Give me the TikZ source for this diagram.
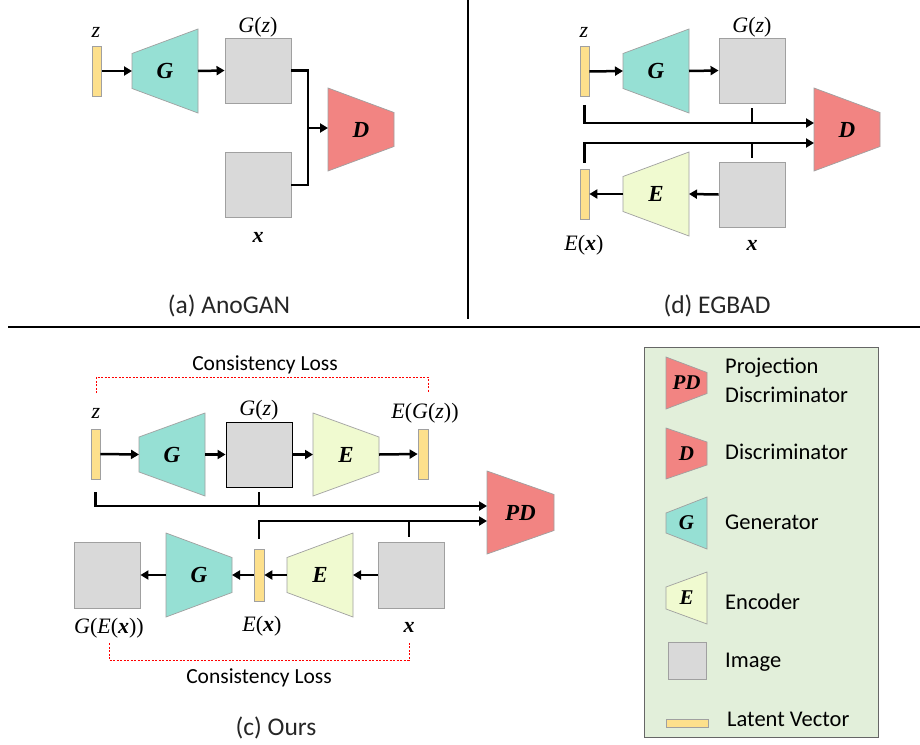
\documentclass[tikz,border=0pt]{standalone}
\usepackage{fontspec}
\setmainfont{Liberation Serif}
\newfontfamily\calfont{Carlito}
\usetikzlibrary{arrows.meta,calc}
\definecolor{gcol}{HTML}{96E0D4}
\definecolor{dcol}{HTML}{F28482}
\definecolor{ecol}{HTML}{F0FAD0}
\definecolor{icol}{HTML}{D9D9D9}
\definecolor{vcol}{HTML}{FDE08C}
\definecolor{lcol}{HTML}{E2EFDA}
\definecolor{bcol}{HTML}{A0A0A0}
\newcommand{\trapz}[7]{%
  \draw[#7] (#2,#4-#5) -- (#3,#4-#6) -- (#3,#4+#6) -- (#2,#4+#5) -- cycle;
  \coordinate (#1-l) at (#2,#4);
  \coordinate (#1-r) at (#3,#4);
  \coordinate (#1) at ({(#2+#3)/2},#4);}
\newcommand{\bi}[1]{\textbf{\textit{#1}}}
\tikzset{
  gen/.style={fill=gcol,draw=bcol,line width=0.7pt},
  disc/.style={fill=dcol,draw=bcol,line width=0.7pt},
  enc/.style={fill=ecol,draw=bcol,line width=0.7pt},
  imgbox/.style={rectangle,fill=icol,draw=bcol,line width=0.9pt,minimum width=66pt,minimum height=65pt,inner sep=0pt},
  vec/.style={rectangle,fill=vcol,draw=bcol,line width=0.7pt,minimum width=9pt,minimum height=50pt,inner sep=0pt},
  conn/.style={line width=2.5pt,black},
  arr/.style={conn,-{Triangle[length=8pt,width=9pt]}},
  lab/.style={font=\fontsize{22}{24}\selectfont,inner sep=0pt},
  netlab/.style={font=\fontsize{23}{25}\selectfont\bfseries\itshape,inner sep=0pt},
  leglab/.style={font=\fontsize{21}{23}\selectfont\bfseries\itshape,inner sep=0pt},
  sans/.style={font=\calfont\fontsize{21.5}{23}\selectfont,inner sep=0pt},
  captxt/.style={font=\calfont\fontsize{25.5}{27}\selectfont,inner sep=0pt,text=black!85},
  legt/.style={font=\calfont\fontsize{22.5}{24}\selectfont,inner sep=0pt,anchor=west},
  cl/.style={red,dashed,dash pattern=on 2pt off 1.5pt,line width=0.9pt}
}
\begin{document}
\begin{tikzpicture}[x=1pt,y=-1pt]
\useasboundingbox (0,0) rectangle (920,744);
\fill[white] (0,0) rectangle (920,744);
% separators
\draw[line width=1.3pt] (468,0) -- (468,319);
\draw[line width=1.6pt] (8,327) -- (920,327);

% ===== (a) AnoGAN
\node[vec] (za) at (97,71) {};
\node[lab] (zal) at (96,32) {\textit{z}};
\trapz{Ga}{132}{198}{71}{17.5}{42}{gen}
\node[netlab] at (Ga) {G};
\node[imgbox] (Gza) at (258,70.5) {};
\node[lab] (Gzal) at (258,27) {\textit{G}(\textit{z})};
\node[imgbox] (xa) at (258,185) {};
\node[lab] (xal) at (258,237) {\bi{x}};
\trapz{Da}{328}{394}{129.5}{41.5}{17}{disc}
\node[netlab] at (Da) {D};
\coordinate (ja) at (308,128);
\draw[arr] (za.east) -- (Ga-l);
\draw[arr] (Ga-r) -- (Gza.west);
\draw[conn] (Gza.east) -| (ja) |- (xa.east);
\draw[arr] (ja) -- (ja -| Da-l);
\node[captxt] (capa) at (229,306) {(a) AnoGAN};

% ===== (d) EGBAD
\node[vec] (zd) at (584.5,71.5) {};
\node[lab] (zdl) at (584,32) {\textit{z}};
\trapz{Gd}{623}{689}{71}{17.5}{42}{gen}
\node[netlab] at (Gd) {G};
\node[imgbox] (Gzd) at (752,70.5) {};
\node[lab] (Gzdl) at (752,27) {\textit{G}(\textit{z})};
\trapz{Dd}{814}{880}{129.5}{41.5}{17}{disc}
\node[netlab] at (Dd) {D};
\node[vec] (exd) at (584.5,194) {};
\node[lab] (exdl) at (584,245) {\textit{E}(\bi{x})};
\trapz{Ed}{623}{689}{194}{17.5}{42}{enc}
\node[netlab] at (Ed) {E};
\node[imgbox] (xd) at (752,194.5) {};
\node[lab] (xdl) at (752,245) {\bi{x}};
\coordinate (d1) at (814,123);
\coordinate (d2) at (814,143);
\draw[arr] (zd.east) -- (Gd-l);
\draw[arr] (Gd-r) -- (Gzd.west);
\draw[arr] ([yshift=-8pt]zd.south) |- (d1);
\draw[conn] ([yshift=-5pt]Gzd.south) -- (Gzd.south |- d1);
\draw[arr] ([yshift=6pt]exd.north) |- (d2);
\draw[conn] ([yshift=4pt]xd.north) -- (xd.north |- d2);
\draw[arr] (xd.west) -- (Ed-r);
\draw[arr] (Ed-l) -- (exd.east);
\node[captxt] (capd) at (717,306) {(d) EGBAD};

% ===== (c) Ours
\node[vec] (zc) at (95.5,454) {};
\node[lab] (zcl) at (96,413) {\textit{z}};
\trapz{Gc}{139}{205}{454.5}{17.5}{41.5}{gen}
\node[netlab] at (Gc) {G};
\node[imgbox,draw=black] (Gzc) at (259,454.5) {};
\node[lab] (Gzcl) at (259,410) {\textit{G}(\textit{z})};
\trapz{Ec}{313}{379}{454.5}{41.5}{17.5}{enc}
\node[netlab] at (Ec) {E};
\node[vec,minimum width=10pt] (egz) at (423,454) {};
\node[lab] (egzl) at (425,413) {\textit{E}(\textit{G}(\textit{z}))};
\trapz{PD}{487}{554}{512.5}{41.5}{18}{disc}
\node[netlab] at (PD) {PD};
\node[imgbox,minimum height=66pt] (gex) at (107,575) {};
\node[lab] (gexl) at (109,628) {\textit{G}(\textit{E}(\bi{x}))};
\trapz{Gb}{166}{232}{575}{42}{17.5}{gen}
\node[netlab] at (Gb) {G};
\node[vec,minimum width=10pt,minimum height=52pt] (exc) at (259,575) {};
\node[lab] (excl) at (262,626) {\textit{E}(\bi{x})};
\trapz{Eb}{287}{353}{575}{17.5}{42}{enc}
\node[netlab] at (Eb) {E};
\node[imgbox,minimum height=66pt] (xc) at (411,575) {};
\node[lab] (xcl) at (409,627) {\bi{x}};
\coordinate (p1) at (487,506);
\coordinate (p2) at (487,521);
\draw[arr] (zc.east) -- (Gc-l);
\draw[arr] (Gc-r) -- (Gzc.west);
\draw[arr] (Gzc.east) -- (Ec-l);
\draw[arr] (Ec-r) -- (egz.west);
\draw[arr] ([yshift=-13pt]zc.south) |- (p1);
\draw[conn] ([yshift=-5pt]Gzc.south) -- (Gzc.south |- p1);
\draw[arr] ([yshift=10pt]exc.north) |- (p2);
\draw[conn] ([xshift=-2pt,yshift=5pt]xc.north) -- ([xshift=-2pt]xc.north |- p2);
\draw[arr] (xc.west) -- (Eb-r);
\draw[arr] (Eb-l) -- (exc.east);
\draw[arr] (exc.west) -- (Gb-r);
\draw[arr] (Gb-l) -- (gex.east);
% consistency losses
\coordinate (c1a) at (96,393);
\coordinate (c1b) at (428,393);
\draw[cl] (c1a) -- ++(0,-16) -| (c1b);
\node[sans] (cltop) at (265,365) {Consistency Loss};
\coordinate (c2a) at (109,643);
\coordinate (c2b) at (409,643);
\draw[cl] (c2a) -- ++(0,17) -| (c2b);
\node[sans] (clbot) at (259,678) {Consistency Loss};
\node[captxt] (capc) at (276,728) {(c) Ours};

% ===== legend
\draw[fill=lcol,draw=black!60,line width=1pt] (644,347) rectangle (878,737);
\trapz{lPD}{666}{707}{383}{26}{10.5}{disc}
\node[leglab] at (lPD) {PD};
\node[legt] at (725,368) {Projection};
\node[legt] at (725,395) {Discriminator};
\trapz{lD}{666}{707}{453.5}{25.5}{11.5}{disc}
\node[leglab] at (lD) {D};
\node[legt] at (725,452) {Discriminator};
\trapz{lG}{666}{707}{523}{10}{26}{gen}
\node[leglab] at (lG) {G};
\node[legt] at (725,522) {Generator};
\trapz{lE}{666}{707}{598}{11}{26}{enc}
\node[leglab] at (lE) {E};
\node[legt] at (725,602) {Encoder};
\node[rectangle,fill=icol,draw=bcol,line width=0.8pt,minimum width=38pt,minimum height=37pt,inner sep=0pt] (limg) at (687,660.5) {};
\node[legt] at (725,662) {Image};
\node[rectangle,fill=vcol,draw=bcol,line width=0.6pt,minimum width=42pt,minimum height=8pt,inner sep=0pt] (lvec) at (687,723) {};
\node[legt] at (727,719) {Latent Vector};
\end{tikzpicture}
\end{document}
